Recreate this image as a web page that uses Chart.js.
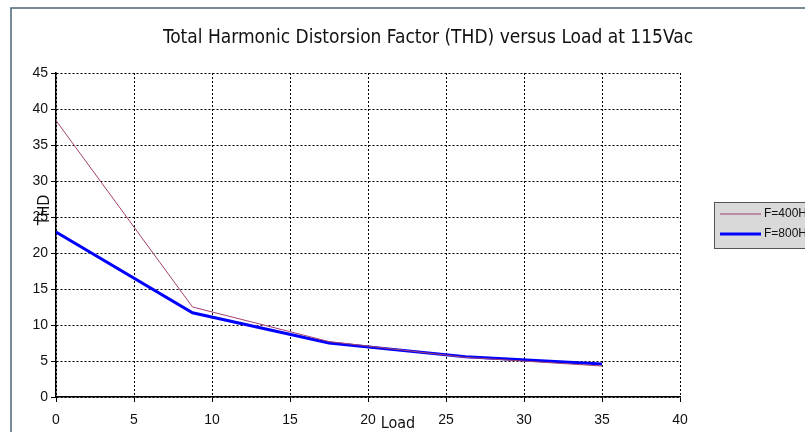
<!DOCTYPE html>
<html>
<head>
<meta charset="UTF-8">
<title>THD versus Load</title>
<script src="https://cdn.jsdelivr.net/npm/chart.js@4.4.1/dist/chart.umd.min.js"></script>
<style>
  html, body { margin: 0; padding: 0; background: #fff; overflow: hidden; }
  #wrap { width: 805px; height: 432px; }
</style>
</head>
<body>
<div id="wrap"><canvas id="chart"></canvas></div>
<script>
// data
const loads  = [0, 8.75, 17.5, 26.25, 35]
const thd400 = [38.4, 12.5, 7.7, 5.5, 4.3]
const thd800 = [22.9, 11.7, 7.5, 5.6, 4.6]
const seriesNames = ['F=400Hz', 'F=800Hz']
const chartTitle = 'Total Harmonic Distorsion Factor (THD) versus Load at 115Vac'
const xTitle = 'Load'
const yTitle = 'THD'

const pts = (ys) => loads.map((x, i) => ({ x: x, y: ys[i] }))

// frame, titles and legend box drawn on top of the canvas
const decor = {
  id: 'decor',
  afterDraw(chart) {
    const c = chart.ctx
    c.save()
    // outer frame (only top and left visible)
    c.strokeStyle = '#4b6676'
    c.lineWidth = 1.5
    c.beginPath()
    c.moveTo(11, 432)
    c.lineTo(11, 8)
    c.lineTo(805, 8)
    c.stroke()

    c.fillStyle = '#111'
    c.textAlign = 'center'
    c.textBaseline = 'middle'
    c.font = '19px "Liberation Sans Narrow", "DejaVu Sans Condensed", sans-serif'
    c.fillText(chartTitle, 428, 38)

    c.font = '16px "Liberation Sans Narrow", "DejaVu Sans Condensed", sans-serif'
    c.fillText(xTitle, 398, 424)
    c.save()
    c.translate(45, 210)
    c.rotate(-Math.PI / 2)
    c.fillText(yTitle, 0, 0)
    c.restore()

    // legend
    c.fillStyle = '#d9d9d9'
    c.fillRect(714, 202, 100, 47)
    c.strokeStyle = '#555'
    c.lineWidth = 1
    c.strokeRect(714.5, 202.5, 100, 46)
    c.textAlign = 'left'
    c.font = '12px "Liberation Sans", sans-serif'
    chart.data.datasets.forEach((ds, i) => {
      const y = 214 + i * 20
      c.strokeStyle = ds.borderColor
      c.lineWidth = ds.borderWidth
      c.beginPath()
      c.moveTo(720, y)
      c.lineTo(761, y)
      c.stroke()
      c.fillStyle = '#111'
      c.fillText(ds.label, 764, y)
    })
    c.restore()
  }
}

const grid = {
  color: '#000',
  lineWidth: 1,
  tickLength: 5,
  tickBorderDash: [],
  tickColor: '#000'
}
const border = { display: true, color: '#000', width: 1.5, dash: [2, 2] }

new Chart(document.getElementById('chart'), {
  type: 'line',
  data: {
    datasets: [{
      label: seriesNames[0],
      data: pts(thd400),
      borderColor: '#a3406f',
      borderWidth: 1,
      pointRadius: 0,
      tension: 0
    }, {
      label: seriesNames[1],
      data: pts(thd800),
      borderColor: '#0000ff',
      borderWidth: 3,
      pointRadius: 0,
      tension: 0
    }]
  },
  options: {
    responsive: true,
    maintainAspectRatio: false,
    animation: false,
    layout: { padding: { left: 0, top: 73, right: 125, bottom: 0 } },
    plugins: { legend: { display: false }, title: { display: false }, tooltip: { enabled: false } },
    scales: {
      x: {
        type: 'linear',
        min: 0, max: 40,
        ticks: { stepSize: 5, color: '#111', padding: 10, font: { family: '"Liberation Sans", Arial, sans-serif', size: 14 } },
        grid: grid,
        border: border,
        afterFit: (s) => { s.height = 35 }
      },
      y: {
        min: 0, max: 45,
        ticks: { stepSize: 5, color: '#111', padding: 3, font: { family: '"Liberation Sans", Arial, sans-serif', size: 14 } },
        grid: grid,
        border: border,
        afterFit: (s) => { s.width = 56 }
      }
    }
  },
  plugins: [decor]
})
</script>
</body>
</html>
